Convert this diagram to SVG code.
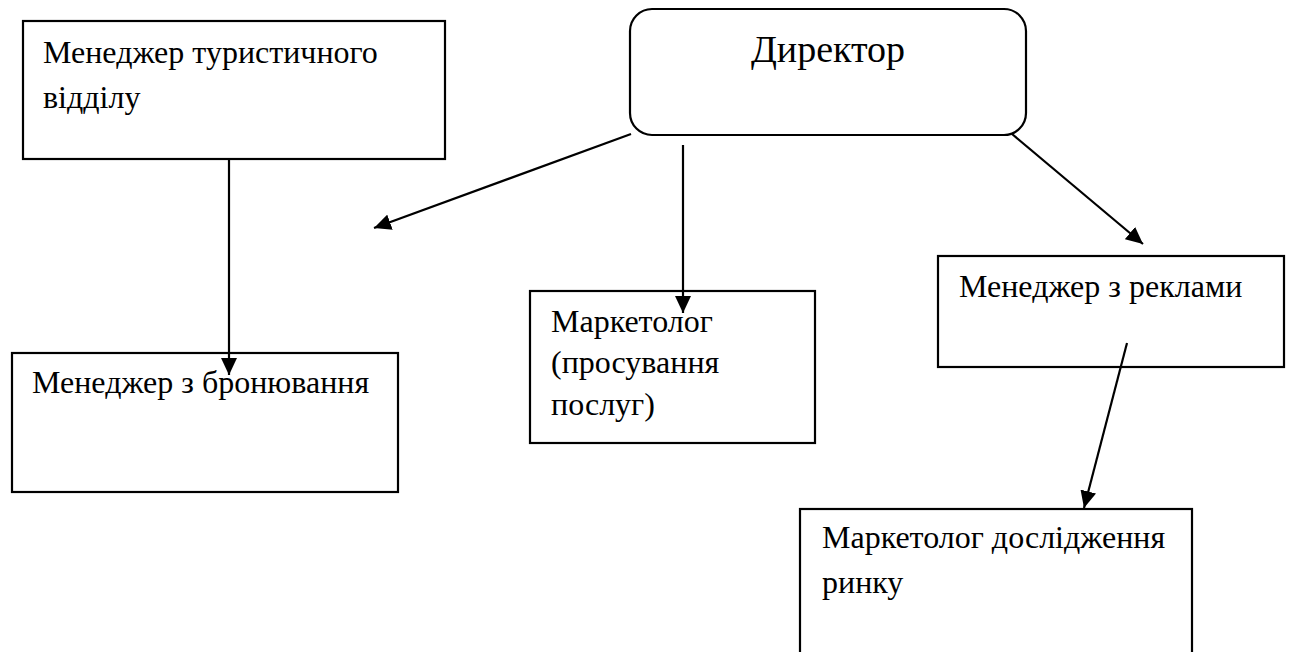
<svg xmlns="http://www.w3.org/2000/svg" width="1290" height="652" viewBox="0 0 1290 652">
  <style>
    .box { fill: #ffffff; stroke: #000000; stroke-width: 2.2; }
    .t { font-family: "Liberation Serif", "Times New Roman", Tinos, "DejaVu Serif", serif; font-size: 32px; fill: #000000; }
    .big { font-family: "Liberation Serif", "Times New Roman", Tinos, "DejaVu Serif", serif; font-size: 38px; fill: #000000; }
    .conn { stroke: #000000; stroke-width: 2.2; fill: none; marker-end: url(#arrow); }
  </style>
  <defs>
    <marker id="arrow" markerUnits="userSpaceOnUse" markerWidth="18" markerHeight="16" refX="17" refY="8" orient="auto">
      <path d="M0,0 L17,8 L0,16 z" fill="#000000"/>
    </marker>
  </defs>
  <rect x="0" y="0" width="1290" height="652" fill="#ffffff"/>

  <g id="node-manager-tour">
    <rect class="box" x="23" y="21" width="422" height="138"/>
    <text class="t" x="43" y="63">Менеджер туристичного</text>
    <text class="t" x="43" y="108">відділу</text>
  </g>

  <g id="node-director">
    <rect class="box" x="630" y="9" width="396" height="126" rx="22" ry="22"/>
    <text class="big" x="828" y="62" text-anchor="middle">Директор</text>
  </g>

  <g id="node-booking">
    <rect class="box" x="12" y="353" width="386" height="139"/>
    <text class="t" x="32" y="393">Менеджер з бронювання</text>
  </g>

  <g id="node-marketer-promo">
    <rect class="box" x="530" y="291" width="285" height="152"/>
    <text class="t" x="551" y="332">Маркетолог</text>
    <text class="t" x="551" y="373">(просування</text>
    <text class="t" x="551" y="415">послуг)</text>
  </g>

  <g id="node-ads">
    <rect class="box" x="938" y="256" width="346" height="111"/>
    <text class="t" x="959" y="297">Менеджер з реклами</text>
  </g>

  <g id="node-research">
    <rect class="box" x="800" y="509" width="392" height="160"/>
    <text class="t" x="822" y="548">Маркетолог дослідження</text>
    <text class="t" x="822" y="593">ринку</text>
  </g>

  <g id="connectors">
    <line class="conn" x1="631" y1="134" x2="374" y2="228"/>
    <line class="conn" x1="683" y1="145" x2="683" y2="313"/>
    <line class="conn" x1="1012" y1="134" x2="1143" y2="244"/>
    <line class="conn" x1="1127" y1="343" x2="1084" y2="508"/>
    <line class="conn" x1="229" y1="160" x2="229" y2="375"/>
  </g>
</svg>
